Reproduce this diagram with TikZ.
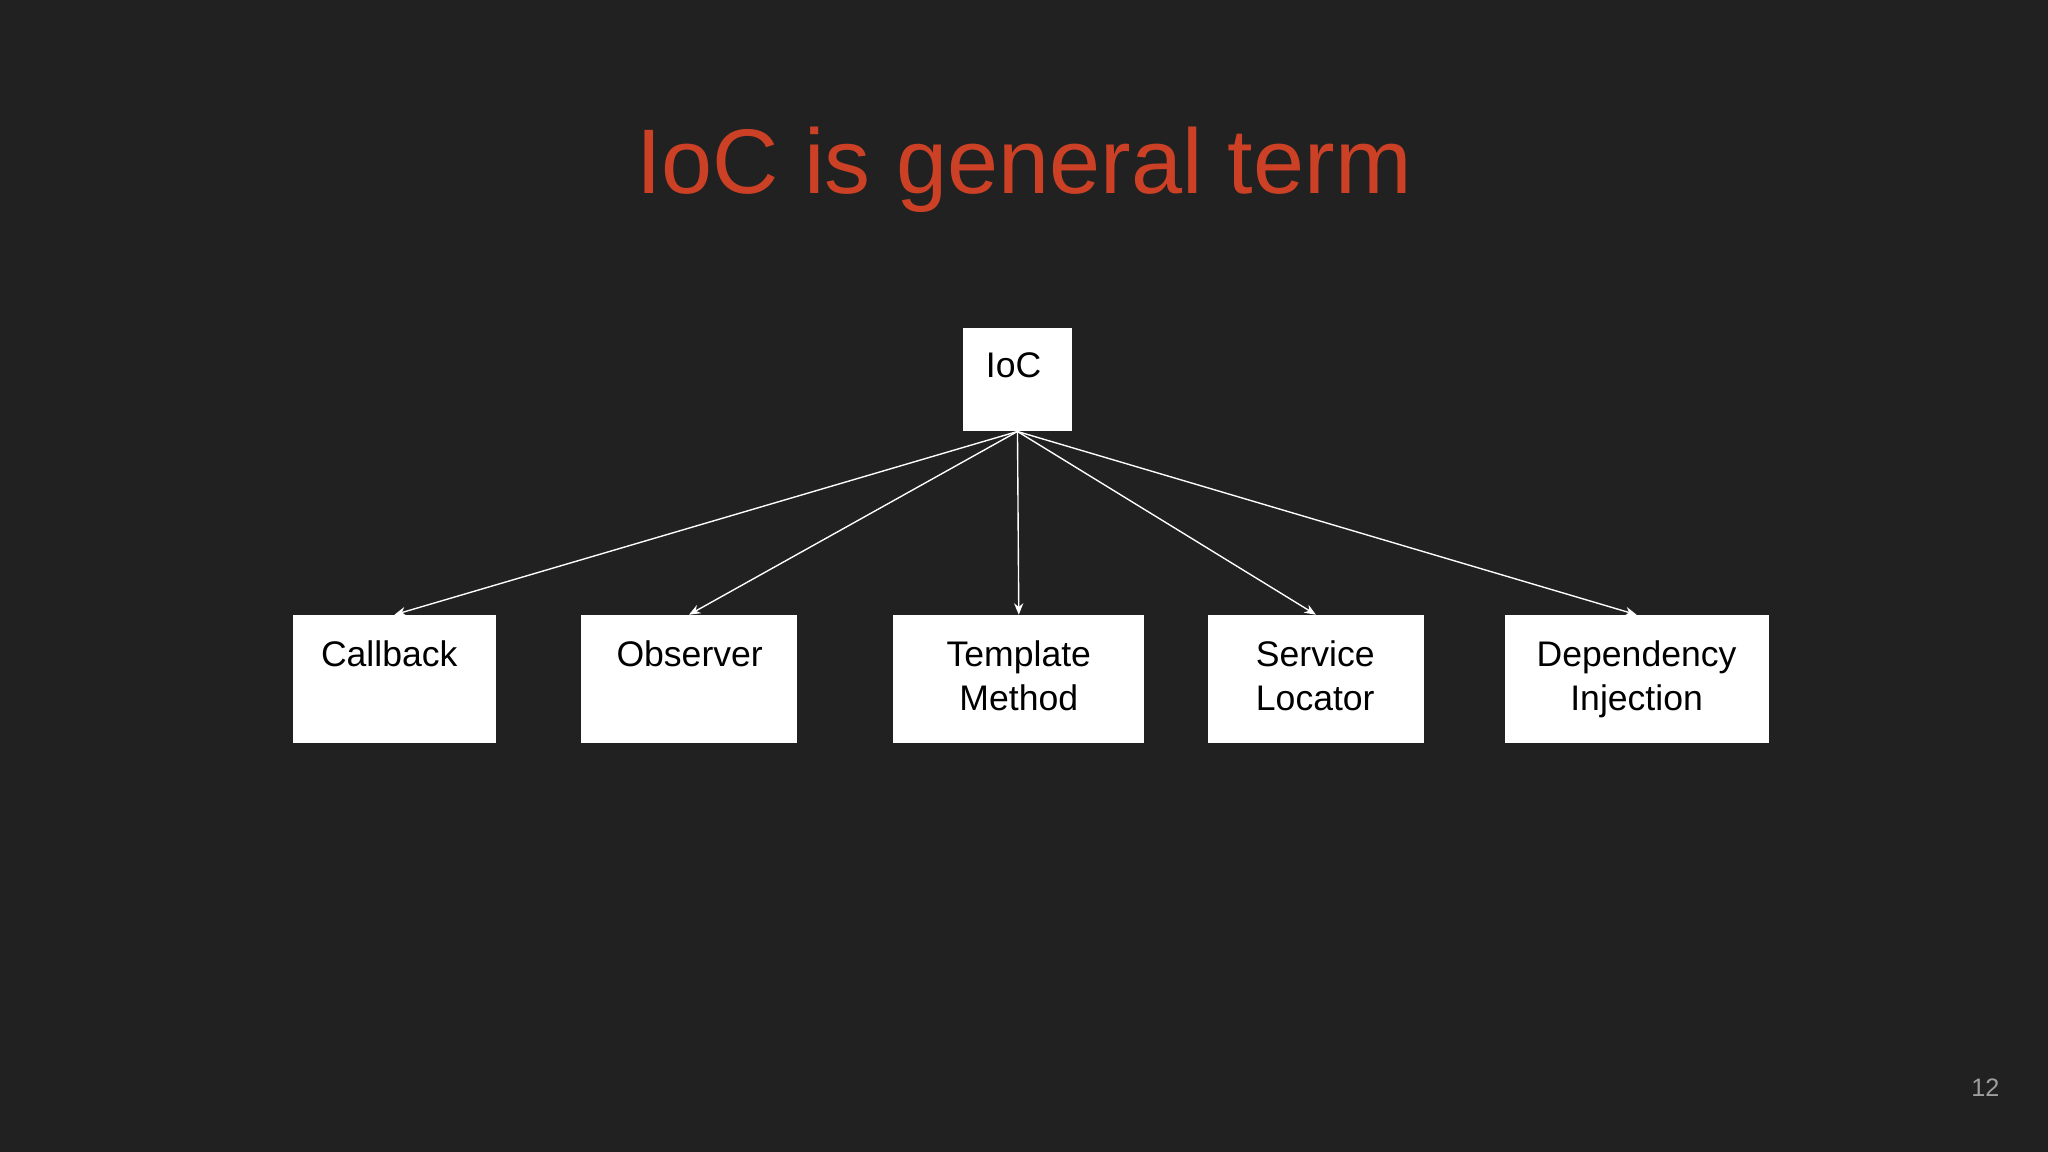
\documentclass[tikz,border=0pt]{standalone}
\usepackage{fontspec}
\setmainfont{Liberation Sans}
\usetikzlibrary{arrows.meta}
\definecolor{bg}{HTML}{212121}
\definecolor{titlered}{HTML}{CC4125}
\definecolor{numgray}{HTML}{9E9E9E}
\tikzset{
  box/.style={draw=none, fill=white, inner sep=0pt},
  boxtext/.style={anchor=north, align=center, font=\fontsize{15.5}{19.5}\selectfont, text=black, inner sep=0pt},
  conn/.style={draw=white, line width=0.6pt, -{Stealth[length=5pt,width=4pt]}}
}
\begin{document}
\begin{tikzpicture}[x=0.02cm, y=-0.02cm]
\fill[bg] (0,0) rectangle (1568,882);
\useasboundingbox (0,0) rectangle (1568,882);
\node[text=titlered, font=\fontsize{40}{48}\selectfont] (title) at (784,130) {IoC is general term};
\node[box, minimum width=84*0.02cm, minimum height=79*0.02cm] (ioc) at (779,290.5) {};
\node[boxtext] (ioct) at (776,270) {IoC};
\node[box, minimum width=156*0.02cm, minimum height=98*0.02cm] (cb) at (302,520) {};
\node[box, minimum width=165*0.02cm, minimum height=98*0.02cm] (ob) at (527.5,520) {};
\node[box, minimum width=192*0.02cm, minimum height=98*0.02cm] (tm) at (780,520) {};
\node[box, minimum width=165*0.02cm, minimum height=98*0.02cm] (sl) at (1007.5,520) {};
\node[box, minimum width=202*0.02cm, minimum height=98*0.02cm] (di) at (1253,520) {};
\node[boxtext] (cbt) at (298,490) {Callback};
\node[boxtext] (obt) at (528,490) {Observer};
\node[boxtext] (tmt) at (780,490) {Template\\Method};
\node[boxtext] (slt) at (1007,490) {Service\\Locator};
\node[boxtext] (dit) at (1253,490) {Dependency\\Injection};
\coordinate (src) at (ioc.south);
\draw[conn] (src) -- (cb.north);
\draw[conn] (src) -- (ob.north);
\draw[conn] (src) -- (tm.north);
\draw[conn] (src) -- (sl.north);
\draw[conn] (src) -- (di.north);
\node[text=numgray, font=\fontsize{11}{13}\selectfont] (pg) at (1520,833) {12};
\end{tikzpicture}
\end{document}
